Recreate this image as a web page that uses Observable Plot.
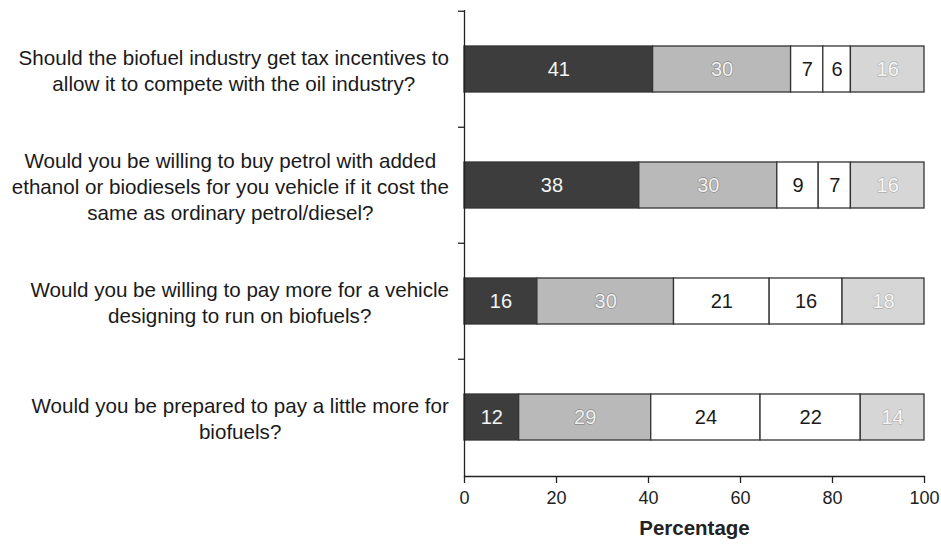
<!DOCTYPE html>
<html><head><meta charset="utf-8">
<script src="https://cdn.jsdelivr.net/npm/d3@7"></script>
<script src="https://cdn.jsdelivr.net/npm/@observablehq/plot@0.6"></script>
<style>
body{margin:0;background:#fff;}
#chart svg{font-family:"Liberation Sans",Arial,sans-serif;background:#fff;}
</style></head><body><div id="chart"></div>
<script>
const questions = [
  "Should the biofuel industry get tax incentives to\nallow it to compete with the oil industry?",
  "Would you be willing to buy petrol with added\nethanol or biodiesels for you vehicle if it cost the\nsame as ordinary petrol/diesel?",
  "Would you be willing to pay more for a vehicle\ndesigning to run on biofuels?",
  "Would you be prepared to pay a little more for\nbiofuels?"
];
const responses = ["Definitely yes", "Probably yes", "Unsure", "Probably not", "Definitely not"];
const q1Values = [41, 30, 7, 6, 16];
const q2Values = [38, 30, 9, 7, 16];
const q3Values = [16, 30, 21, 16, 18];
const q4Values = [12, 29, 24, 22, 14];
const xTicks = [0, 20, 40, 60, 80, 100];
const colors = ["#3d3d3d", "#b9b9b9", "#ffffff", "#ffffff", "#d6d6d6"];

const allValues = [q1Values, q2Values, q3Values, q4Values];
const rows = [];
questions.forEach((q, i) => responses.forEach((r, j) => rows.push({q, r, j, v: allValues[i][j]})));

const W = 941, H = 546, mT = 10, mB = 70, mL = 464, mR = 17;
const step = (H - mT - mB) / questions.length;

const stackOpts = {y: "q", x: "v", offset: "normalize", order: null, fontSize: 20};
const label = (js) => (d => js.includes(d.j) ? String(d.v) : "");

const plot = Plot.plot({
  width: W, height: H,
  marginTop: mT, marginBottom: mB, marginLeft: mL, marginRight: mR,
  x: {domain: [0, 1]},
  y: {domain: questions, paddingInner: 0.6, paddingOuter: 0.3},
  color: {domain: responses, range: colors},
  marks: [
    Plot.barX(rows, Plot.stackX({...stackOpts, fill: "r", stroke: "#333", strokeWidth: 1.3})),
    Plot.text(rows, Plot.stackX({...stackOpts, text: label([0]), fill: "#f4f4f4"})),
    Plot.text(rows, Plot.stackX({...stackOpts, text: label([1]), fill: "#f0f0f0", stroke: "#8a8a8a", strokeWidth: 1.3})),
    Plot.text(rows, Plot.stackX({...stackOpts, text: label([2, 3]), fill: "#1a1a1a"})),
    Plot.text(rows, Plot.stackX({...stackOpts, text: label([4]), fill: "#f6f6f6", stroke: "#b0b0b0", strokeWidth: 1.3})),
    Plot.ruleX([0], {stroke: "#222", strokeWidth: 1.3}),
    Plot.frame({anchor: "bottom", stroke: "#222", strokeWidth: 1.3}),
    Plot.axisY({tickSize: 6, tickFormat: () => "", dy: -step / 2, stroke: "#222", strokeWidth: 1.3, label: null}),
    Plot.axisX({ticks: xTicks.map(t => t / 100), tickFormat: d => String(Math.round(d * 100)), tickSize: 7, tickPadding: 8, fontSize: 18, label: null, color: "#222", strokeWidth: 1.3}),
    Plot.text(questions, {y: d => d, frameAnchor: "left", dx: -229, textAnchor: "middle", lineHeight: 1.27, fontSize: 20.6, fill: "#1a1a1a", className: "ylab"}),
    Plot.text(["Percentage"], {frameAnchor: "bottom", dy: 58, fontSize: 20.5, fontWeight: "bold", fill: "#222"})
  ]
});
document.getElementById("chart").appendChild(plot);
const svgLeft = plot.getBoundingClientRect().left;
plot.querySelectorAll(".ylab text").forEach(t => {
  const r = t.getBoundingClientRect();
  const shift = 449 - (r.right - svgLeft);
  t.setAttribute("transform", (t.getAttribute("transform") || "") + ` translate(${shift},0)`);
});
</script></body></html>
